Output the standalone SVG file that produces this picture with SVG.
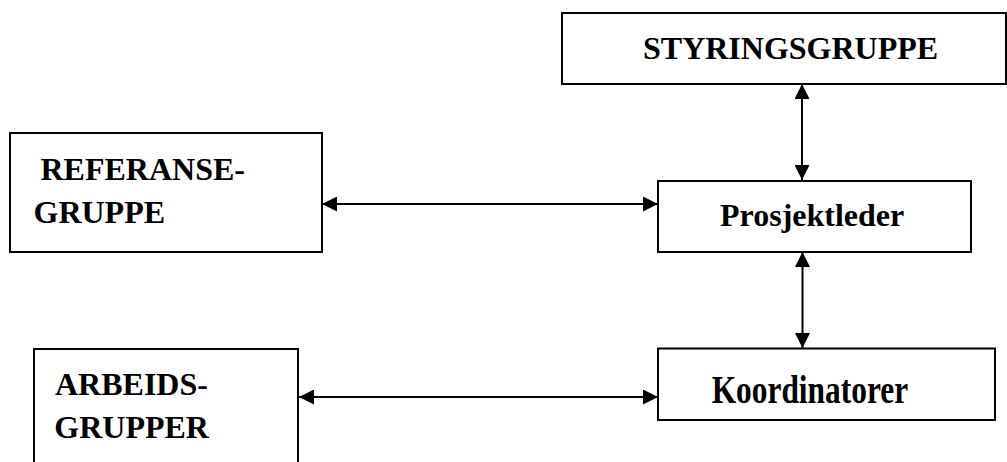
<svg xmlns="http://www.w3.org/2000/svg" width="1007" height="462" viewBox="0 0 1007 462">
<style>
.box{fill:#fff;stroke:#000;stroke-width:2}
.lbl{font-family:"Liberation Serif","Times New Roman",serif;font-weight:bold;font-size:32px;fill:#000}
.con{stroke:#000;stroke-width:2;fill:none;marker-start:url(#ah);marker-end:url(#ah)}
</style>
<defs>
<marker id="ah" markerUnits="userSpaceOnUse" markerWidth="15" markerHeight="15" refX="15" refY="7.5" orient="auto-start-reverse" viewBox="0 0 15 15">
<path d="M0,0 L15,7.5 L0,15 z" fill="#000"/>
</marker>
</defs>
<rect width="1007" height="462" fill="#fff"/>
<g id="styringsgruppe">
<rect class="box" x="562" y="13" width="444" height="71"/>
<text class="lbl" x="643" y="59">STYRINGSGRUPPE</text>
</g>
<g id="referansegruppe">
<rect class="box" x="10" y="133" width="312" height="119"/>
<text class="lbl" x="40.5" y="179.5">REFERANSE-</text>
<text class="lbl" x="33.5" y="222.5">GRUPPE</text>
</g>
<g id="prosjektleder">
<rect class="box" x="658" y="181" width="313" height="71"/>
<text class="lbl" x="720" y="226">Prosjektleder</text>
</g>
<g id="arbeidsgrupper">
<rect class="box" x="34" y="349" width="264" height="130"/>
<text class="lbl" x="55" y="395">ARBEIDS-</text>
<text class="lbl" x="54.3" y="438">GRUPPER</text>
</g>
<g id="koordinatorer">
<rect class="box" x="658" y="348.5" width="337" height="71.5"/>
<text class="lbl" transform="translate(711.7,403) scale(0.785,1)" x="0" y="0" style="font-size:40px">Koordinatorer</text>
</g>
<g id="connectors">
<line class="con" x1="802" y1="84" x2="802" y2="180"/>
<line class="con" x1="802.5" y1="252" x2="802.5" y2="348"/>
<line class="con" x1="322" y1="204" x2="658" y2="204"/>
<line class="con" x1="299" y1="397" x2="658" y2="397"/>
</g>
</svg>
